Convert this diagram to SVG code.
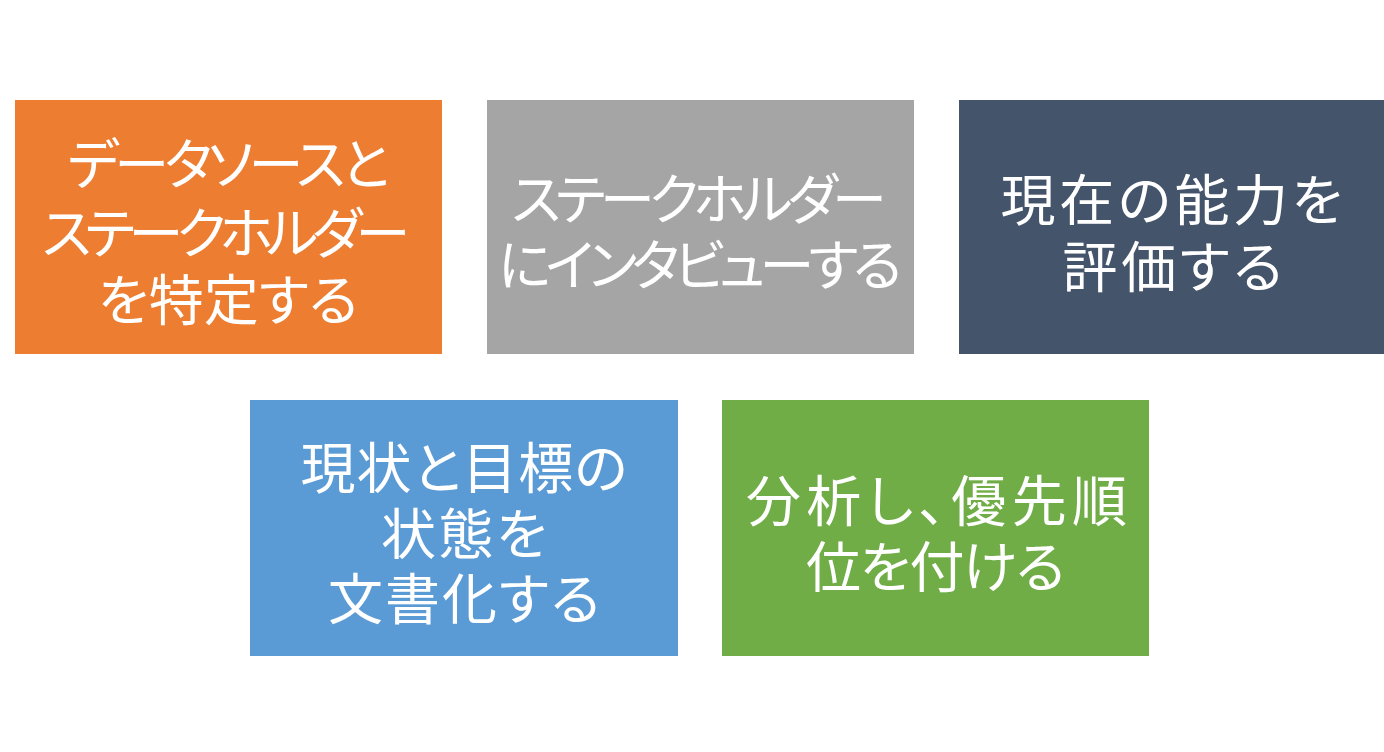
<svg xmlns="http://www.w3.org/2000/svg" width="1384" height="752" viewBox="0 0 1384 752">
<style>
.box{stroke:none}
.t{font-family:"Noto Sans CJK JP","Noto Sans CJK SC",sans-serif;font-size:55px;fill:#ffffff;text-anchor:middle;dominant-baseline:central;font-feature-settings:"palt"}
</style>
<rect width="1384" height="752" fill="#ffffff"/>
<g id="node1"><rect class="box" x="15" y="100" width="427" height="254" fill="#ED7D31"/>
<text class="t" x="228.5" y="160" textLength="322" lengthAdjust="spacing">データソースと</text><text class="t" x="226" y="229" textLength="368" lengthAdjust="spacing">ステークホルダー</text><text class="t" x="228" y="296" textLength="260" lengthAdjust="spacing">を特定する</text></g>
<g id="node2"><rect class="box" x="487" y="100" width="427" height="254" fill="#A5A5A5"/>
<text class="t" x="699" y="195" textLength="375" lengthAdjust="spacing">ステークホルダー</text><text class="t" x="700" y="261" textLength="404" lengthAdjust="spacing">にインタビューする</text></g>
<g id="node3"><rect class="box" x="959" y="100" width="425" height="254" fill="#44546A"/>
<text class="t" x="1171.5" y="196" textLength="342" lengthAdjust="spacing">現在の能力を</text><text class="t" x="1172.5" y="263" textLength="220" lengthAdjust="spacing">評価する</text></g>
<g id="node4"><rect class="box" x="250" y="400" width="428" height="256" fill="#5B9BD5"/>
<text class="t" x="464" y="464" textLength="327" lengthAdjust="spacing">現状と目標の</text><text class="t" x="464" y="530" textLength="166" lengthAdjust="spacing">状態を</text><text class="t" x="464" y="595" textLength="272" lengthAdjust="spacing">文書化する</text></g>
<g id="node5"><rect class="box" x="722" y="400" width="427" height="256" fill="#70AD47"/>
<text class="t" x="936.5" y="497" textLength="381" lengthAdjust="spacing">分析し、優先順</text><text class="t" x="935.5" y="563" textLength="259" lengthAdjust="spacing">位を付ける</text></g>
<g id="connectors"></g>
</svg>
